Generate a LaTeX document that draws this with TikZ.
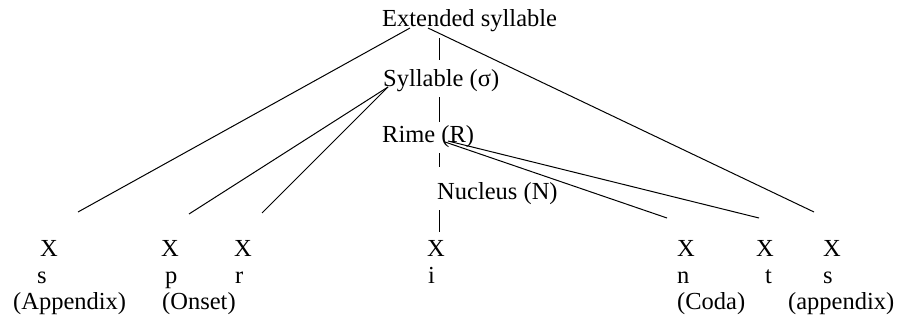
\documentclass[tikz,border=0pt]{standalone}
\usepackage{fontspec}
\setmainfont{Liberation Serif}
\tikzset{
  word/.style   = {anchor=base west, inner sep=0pt, font=\fontsize{24.5}{29}\selectfont},
  branch/.style = {line width=1pt},
}

\begin{document}
\begin{tikzpicture}[x=1pt,y=-1pt]
\useasboundingbox (0,0) rectangle (905,321);
% constituents
\node[word] (ext)  at (382,27)  {Extended syllable};
\node[word] (syl)  at (383,86)  {Syllable (σ)};
\node[word] (rime) at (382,142) {Rime (R)};
\node[word] (nuc)  at (437,199) {Nucleus (N)};
% timing slots, segments and their roles
\foreach \n/\x in {1/40,2/161,3/234,4/427,5/677,6/756,7/823}
  \node[word] (x\n) at (\x,256) {X};
\foreach \n/\x/\s in {1/37/s,2/165/p,3/235/r,4/428/i,5/677/n,6/765/t,7/823/s}
  \node[word] (seg\n) at (\x,283) {\s};
\node[word] (app1)  at (13,309)  {(Appendix)};
\node[word] (onset) at (162,309) {(Onset)};
\node[word] (coda)  at (677,309) {(Coda)};
\node[word] (app2)  at (788,309) {(appendix)};
% where the branches start and stop
\coordinate (extL)  at (410,28);
\coordinate (extR)  at (428,28);
\coordinate (sylB)  at (388,87);
\coordinate (rimeN) at (445,142);
\coordinate (rimeT) at (448,141);
\coordinate (toS1)  at (78,212);
\coordinate (toP)   at (189,214);
\coordinate (toR)   at (262,213);
\coordinate (toN)   at (667,218);
\coordinate (toT)   at (759,218);
\coordinate (toS2)  at (814,212);
\draw[branch] (extL) -- (toS1);
\draw[branch] (extR) -- (toS2);
\draw[branch] (sylB) -- (toP);
\draw[branch] (sylB) -- (toR);
\draw[branch] (rimeN) -- (toN);
\draw[branch] (rimeT) -- (toT);
% head line down the middle
\foreach \a/\b in {38/60,97/122,153/167,210/232}
  \draw[branch] (439,\a) -- (439,\b);
\end{tikzpicture}
\end{document}
